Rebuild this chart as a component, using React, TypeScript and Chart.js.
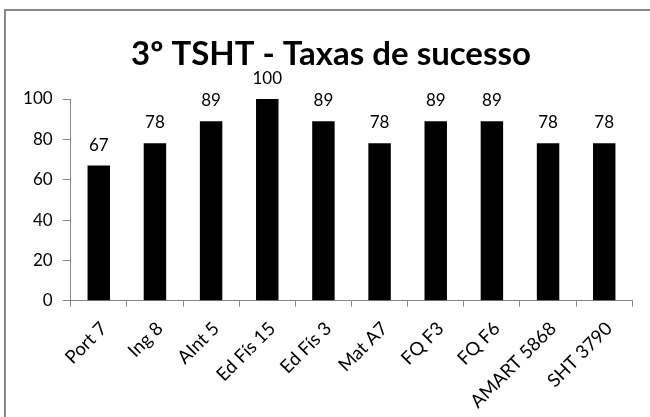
import React, { useEffect, useRef } from "react";
import { Chart, registerables } from "chart.js";

Chart.register(...registerables);

const categories = ["Port 7", "Ing 8", "AInt 5", "Ed Fís 15", "Ed Fís 3", "Mat A7", "FQ F3", "FQ F6", "AMART 5868", "SHT 3790"];
const successRates = [67, 78, 89, 100, 89, 78, 89, 89, 78, 78];
const yTicks = [0, 20, 40, 60, 80, 100];
const chartTitle = "3º TSHT - Taxas de sucesso";

const FONT = "Lato, 'Open Sans', sans-serif";

export default function App() {
  const ref = useRef<HTMLCanvasElement>(null);

  useEffect(() => {
    if (!ref.current) return;

    const framePlugin = {
      id: "frame",
      afterDraw(chart: any) {
        const ctx = chart.ctx;
        ctx.save();
        ctx.strokeStyle = "#878787";
        ctx.lineWidth = 2;
        ctx.strokeRect(5, 10, 700, 500);
        ctx.restore();
      },
    };

    const titlePlugin = {
      id: "customTitle",
      afterDraw(chart: any) {
        const ctx = chart.ctx;
        ctx.save();
        ctx.font = `bold 33px ${FONT}`;
        ctx.fillStyle = "#000";
        ctx.textAlign = "center";
        ctx.textBaseline = "alphabetic";
        ctx.fillText(chartTitle, 331, 65);
        ctx.restore();
      },
    };

    const valuePlugin = {
      id: "values",
      afterDatasetsDraw(chart: any) {
        const ctx = chart.ctx;
        const meta = chart.getDatasetMeta(0);
        ctx.save();
        ctx.font = `17px ${FONT}`;
        ctx.fillStyle = "#000";
        ctx.textAlign = "center";
        ctx.textBaseline = "alphabetic";
        meta.data.forEach((bar: any, i: number) => {
          ctx.fillText(String(successRates[i]), bar.x, bar.y - 15);
        });
        ctx.restore();
      },
    };

    const chart = new Chart(ref.current, {
      type: "bar",
      data: {
        labels: categories,
        datasets: [
          {
            data: successRates,
            backgroundColor: "#000",
            borderWidth: 0,
            categoryPercentage: 1,
            barPercentage: 0.4,
          },
        ],
      },
      options: {
        responsive: false,
        animation: false,
        devicePixelRatio: 1,
        layout: { padding: { left: 0, right: 17.7, top: 99, bottom: 0 } },
        plugins: {
          legend: { display: false },
          tooltip: { enabled: false },
          title: { display: false },
        },
        scales: {
          x: {
            grid: { drawOnChartArea: false, drawTicks: true, tickLength: 6, color: "#868686", offset: true },
            border: { display: true, color: "#868686", width: 1 },
            ticks: {
              maxRotation: 45,
              minRotation: 45,
              color: "#000",
              font: { family: FONT, size: 18.5 },
              padding: 11,
              labelOffset: 5,
            },
            afterFit: (s: any) => {
              s.height = 417 - 300.7;
            },
          },
          y: {
            min: 0,
            max: 100,
            grid: { drawOnChartArea: false, drawTicks: true, tickLength: 8, color: "#868686" },
            border: { display: true, color: "#868686", width: 1 },
            ticks: { color: "#000", font: { family: FONT, size: 17 }, padding: 10 },
            afterBuildTicks: (s: any) => {
              s.ticks = yTicks.map((v) => ({ value: v }));
            },
            afterFit: (s: any) => {
              s.width = 70.7;
            },
          },
        },
      },
      plugins: [framePlugin, titlePlugin, valuePlugin],
    });

    return () => chart.destroy();
  }, []);

  return (
    <div style={{ position: "fixed", left: 0, top: 0, width: 650, height: 417, background: "#fff" }}>
      <canvas ref={ref} width={650} height={417} style={{ display: "block", width: 650, height: 417 }} />
    </div>
  );
}
